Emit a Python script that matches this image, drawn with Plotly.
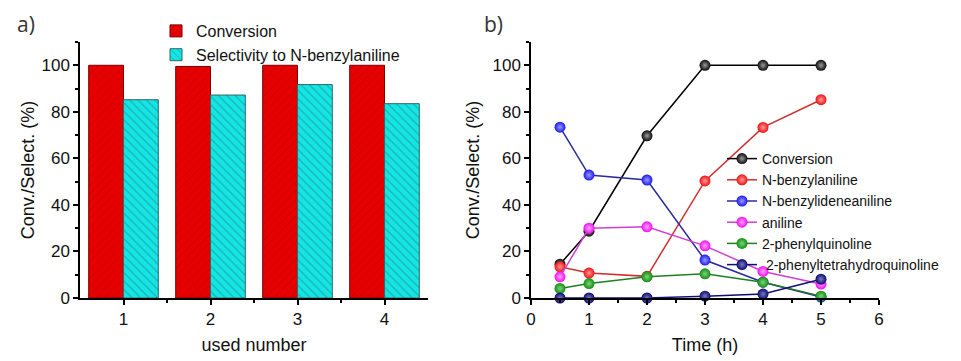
import plotly.graph_objects as go

# Panel a data
used_number = [1, 2, 3, 4]
conversion_a = [100, 99.5, 100, 100]
selectivity_a = [85.2, 87.2, 91.7, 83.5]

# Panel b data
time_h = [0.5, 1, 2, 3, 4, 5]
conv_b = [14.5, 28.7, 69.7, 100, 100, 100]
n_benzylaniline = [13.4, 10.7, 9.3, 50.3, 73.3, 85.2]
n_benzylideneaniline = [73.4, 52.8, 50.7, 16.3, 6.8, 0.4]
aniline = [9.1, 30.0, 30.6, 22.4, 11.4, 6.0]
phenylquinoline = [4.1, 6.2, 9.1, 10.4, 6.8, 0.8]
phenylthq = [0.0, 0.0, 0.0, 0.8, 1.7, 8.1]

FONT = "Liberation Sans, Arial, sans-serif"

# page body margin offset (browser default)
OFF = 8
FW, FH = 961 - OFF, 361 - OFF
# plotting area in reference pixels
L, R, T, B = 80, 879, 42, 298
W, H = R - L, B - T


def px(xp):
    return (xp - L) / W


def py(yp):
    return (B - yp) / H


fig = go.Figure()

fig.add_trace(go.Bar(
    x=used_number, y=conversion_a, name="Conversion",
    marker=dict(color="#e60000", line=dict(color="#7a0000", width=1),
                pattern=dict(shape="/", fgcolor="#b00000", bgcolor="#e60000",
                             size=6, solidity=0.15)),
    xaxis="x", yaxis="y", legend="legend", width=0.4, offset=-0.4))
fig.add_trace(go.Bar(
    x=used_number, y=selectivity_a, name="Selectivity to N-benzylaniline",
    marker=dict(color="#14e6e6", line=dict(color="#2a6a6a", width=1),
                pattern=dict(shape="\\", fgcolor="#2a7a7a", bgcolor="#14e6e6",
                             size=6, solidity=0.2)),
    xaxis="x", yaxis="y", legend="legend", width=0.4, offset=0))

series_b = [
    ("Conversion", conv_b, "#0a0a0a", "#000000", "#9a9a9a"),
    ("N-benzylaniline", n_benzylaniline, "#f01010", "#d03030", "#ff9a9a"),
    ("N-benzylideneaniline", n_benzylideneaniline, "#1a1af0", "#2a2aa0", "#9a9aff"),
    ("aniline", aniline, "#f010f0", "#d040d0", "#ffa0ff"),
    ("2-phenylquinoline", phenylquinoline, "#109010", "#208020", "#80d080"),
    (" 2-phenyltetrahydroquinoline", phenylthq, "#0a0a70", "#101070", "#7a7ac0"),
]
for name, ys, mcol, lcol, hcol in series_b:
    fig.add_trace(go.Scatter(
        x=time_h, y=ys, name=name, mode="lines+markers",
        line=dict(color=lcol, width=1.5),
        marker=dict(size=11, color=mcol,
                    gradient=dict(type="radial", color=hcol),
                    line=dict(width=0)),
        cliponaxis=False,
        xaxis="x2", yaxis="y2", legend="legend2"))

axis_common = dict(
    showline=True, linecolor="black", linewidth=1.5, ticks="outside",
    ticklen=5, tickwidth=1.5, tickcolor="black", showgrid=False, zeroline=False,
    automargin=False,
    tickfont=dict(family=FONT, size=17, color="#111"),
    title_font=dict(family=FONT, size=18, color="#111"),
)
minor_y = dict(dtick=10, ticks="outside", ticklen=3, tickcolor="black", tickwidth=1.5)

fig.update_layout(
    width=FW, height=FH,
    margin=dict(l=L - OFF, r=961 - R, t=T - OFF, b=361 - B, autoexpand=False),
    paper_bgcolor="white", plot_bgcolor="white",
    barmode="overlay",
    showlegend=True,
    xaxis=dict(domain=[0, px(428)], range=[0.5, 4.5],
               tickvals=used_number, title=dict(text="used number", standoff=10),
               minor=dict(tickvals=[1.5, 2.5, 3.5], ticks="outside", ticklen=3,
                          tickcolor="black", tickwidth=1.5),
               **axis_common),
    yaxis=dict(domain=[0, 1], range=[0, 110], tickvals=[0, 20, 40, 60, 80, 100],
               title=dict(text="Conv./Select. (%)", standoff=2),
               minor=minor_y, **axis_common),
    xaxis2=dict(domain=[px(531), 1], range=[0, 6], dtick=1,
                anchor="y2", title=dict(text="Time (h)", standoff=10),
                minor=dict(dtick=0.5, ticks="outside", ticklen=3,
                           tickcolor="black", tickwidth=1.5),
                **axis_common),
    yaxis2=dict(domain=[0, 1], range=[0, 110], tickvals=[0, 20, 40, 60, 80, 100],
                anchor="x2", title=dict(text="Conv./Select. (%)", standoff=8),
                minor=minor_y, **axis_common),
    legend=dict(x=px(156), y=py(14), xanchor="left", yanchor="top",
                bgcolor="rgba(0,0,0,0)", tracegroupgap=0,
                font=dict(family=FONT, size=16, color="#111")),
    legend2=dict(x=px(722), y=py(143), xanchor="left", yanchor="top",
                 bgcolor="rgba(0,0,0,0)", tracegroupgap=0,
                 font=dict(family=FONT, size=14, color="#111"),
                 itemwidth=30),
    annotations=[
        dict(text="a)", x=px(15), y=py(24), xref="paper", yref="paper",
             xanchor="left", yanchor="middle", showarrow=False,
             font=dict(family="Open Sans, sans-serif", size=21, color="#333")),
        dict(text="b)", x=px(482), y=py(24), xref="paper", yref="paper",
             xanchor="left", yanchor="middle", showarrow=False,
             font=dict(family="Open Sans, sans-serif", size=21, color="#333")),
    ],
)

fig.write_html("out.html")
